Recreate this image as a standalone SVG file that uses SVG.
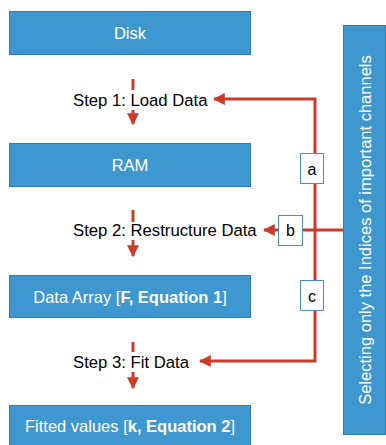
<svg xmlns="http://www.w3.org/2000/svg" width="386" height="445" viewBox="0 0 386 445">
  <defs>
    <style>
      .box { fill: #3F97D0; stroke: #2F7DB6; stroke-width: 1; }
      .boxtxt { fill: #FFFFFF; font-family: "Liberation Sans", Arial, sans-serif; font-size: 16.5px; text-anchor: middle; dominant-baseline: central; }
      .step { fill: #000000; font-family: "Liberation Sans", Arial, sans-serif; font-size: 16.7px; dominant-baseline: central; }
      .lbl { fill: #FFFFFF; stroke: #4A8CC4; stroke-width: 1; }
      .lbltxt { fill: #000000; font-family: "Liberation Sans", Arial, sans-serif; font-size: 16px; text-anchor: middle; dominant-baseline: central; }
      .wire { fill: none; stroke: #CC3A2A; stroke-width: 3; }
      .stub { fill: none; stroke: #CC3A2A; stroke-width: 3; }
    </style>
    <marker id="head" viewBox="0 0 10 10" refX="9" refY="5" markerWidth="4" markerHeight="4" markerUnits="strokeWidth" orient="auto">
      <path d="M0,0 L10,5 L0,10 z" fill="#CC3A2A"/>
    </marker>
  </defs>

  <!-- storage / data stages -->
  <g id="disk">
    <rect class="box" x="9.5" y="11.5" width="241" height="43"/>
    <text class="boxtxt" x="130" y="33">Disk</text>
  </g>
  <g id="ram">
    <rect class="box" x="9.5" y="143.5" width="241" height="43"/>
    <text class="boxtxt" x="130" y="165">RAM</text>
  </g>
  <g id="data-array">
    <rect class="box" x="9.5" y="275.5" width="241" height="42"/>
    <text class="boxtxt" x="130" y="297" font-size="16.9">Data Array [<tspan font-weight="bold">F, Equation 1</tspan>]</text>
  </g>
  <g id="fitted-values">
    <rect class="box" x="9.5" y="405.5" width="241" height="42"/>
    <text class="boxtxt" x="130" y="426" font-size="18">Fitted values [<tspan font-weight="bold">k, Equation 2</tspan>]</text>
  </g>

  <!-- processing steps -->
  <g id="step1">
    <text class="step" x="73" y="100">Step 1: Load Data</text>
  </g>
  <g id="step2">
    <text class="step" x="73" y="230">Step 2: Restructure Data</text>
  </g>
  <g id="step3">
    <text class="step" x="73" y="362">Step 3: Fit Data</text>
  </g>

  <!-- channel selection panel -->
  <g id="channel-selection">
    <rect class="box" x="343.5" y="25.5" width="42" height="409"/>
    <text class="boxtxt" transform="translate(365 230) rotate(-90)" font-size="17.4">Selecting only the Indices of important channels</text>
  </g>

  <!-- connectors -->
  <g id="connectors">
    <!-- flow stubs between stages -->
    <line class="stub" x1="133" y1="79" x2="133" y2="90"/>
    <line class="wire" x1="133" y1="110" x2="133" y2="124" marker-end="url(#head)"/>
    <line class="stub" x1="133" y1="210" x2="133" y2="222"/>
    <line class="wire" x1="133" y1="240" x2="133" y2="256" marker-end="url(#head)"/>
    <line class="stub" x1="133" y1="342" x2="133" y2="352"/>
    <line class="wire" x1="133" y1="372" x2="133" y2="388" marker-end="url(#head)"/>

    <!-- selection feeds -->
    <line class="wire" x1="343" y1="230" x2="303" y2="230"/>
    <polyline class="wire" points="315,311 315,99 214,99" marker-end="url(#head)"/>
    <line class="wire" x1="278" y1="230" x2="264" y2="230" marker-end="url(#head)"/>
    <polyline class="wire" points="315,311 315,361 200,361" marker-end="url(#head)"/>
  </g>

  <!-- feed labels -->
  <g id="label-a">
    <rect class="lbl" x="300.5" y="153.5" width="23" height="30"/>
    <text class="lbltxt" x="312" y="169">a</text>
  </g>
  <g id="label-b">
    <rect class="lbl" x="278.5" y="215.5" width="24" height="30"/>
    <text class="lbltxt" x="290.5" y="230">b</text>
  </g>
  <g id="label-c">
    <rect class="lbl" x="300.5" y="280.5" width="23" height="30"/>
    <text class="lbltxt" x="312" y="296">c</text>
  </g>
</svg>
